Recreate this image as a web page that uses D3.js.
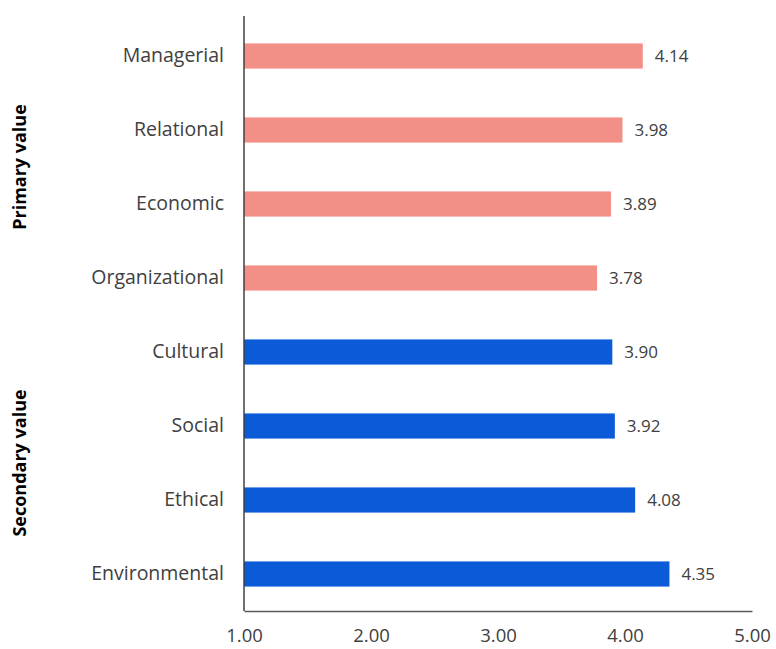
<!DOCTYPE html>
<html>
<head>
<meta charset="utf-8">
<script src="https://cdn.jsdelivr.net/npm/d3@7"></script>
<style>
  body { margin: 0; background: #fff; }
  text { font-family: "Open Sans", sans-serif; }
</style>
</head>
<body>
<div id="chart"></div>
<script>
const categories = ["Managerial", "Relational", "Economic", "Organizational", "Cultural", "Social", "Ethical", "Environmental"];
const values = [4.14, 3.98, 3.89, 3.78, 3.90, 3.92, 4.08, 4.35];
const groups = ["Primary", "Primary", "Primary", "Primary", "Secondary", "Secondary", "Secondary", "Secondary"];
const groupLabels = ["Primary value", "Secondary value"];
const xTicks = [1, 2, 3, 4, 5];

const data = categories.map((c, i) => ({ name: c, value: values[i], group: groups[i] }));

const width = 776, height = 649;
const margin = { top: 19, right: 24, bottom: 38, left: 244 };

const svg = d3.select("#chart").append("svg")
  .attr("width", width)
  .attr("height", height);

const x = d3.scaleLinear()
  .domain([1, 5])
  .range([margin.left, width - margin.right]);

const y = d3.scaleBand()
  .domain(categories)
  .range([margin.top, height - margin.bottom])
  .paddingInner(0.66)
  .paddingOuter(0.33);

const color = d3.scaleOrdinal()
  .domain(["Primary", "Secondary"])
  .range(["#f28f87", "#0b5bd8"]);

svg.selectAll("rect.bar")
  .data(data)
  .enter().append("rect")
  .attr("class", "bar")
  .attr("x", x(1))
  .attr("y", d => y(d.name))
  .attr("width", d => x(d.value) - x(1))
  .attr("height", y.bandwidth())
  .attr("fill", d => color(d.group));

// value labels
svg.selectAll("text.val")
  .data(data)
  .enter().append("text")
  .attr("class", "val")
  .attr("x", d => x(d.value) + 12)
  .attr("y", d => y(d.name) + y.bandwidth() / 2)
  .attr("dy", "0.35em")
  .style("font-size", "17px")
  .style("fill", "#404040")
  .text(d => d.value.toFixed(2));

// x axis
const xAxis = svg.append("g")
  .attr("transform", `translate(0, ${height - margin.bottom})`)
  .call(d3.axisBottom(x).tickValues(xTicks).tickFormat(d3.format(".2f")).tickSize(0).tickPadding(18));
xAxis.select(".domain").attr("stroke", "#595959").attr("stroke-width", 1.5);
xAxis.selectAll("text")
  .style("font-size", "18.5px")
  .style("font-family", "'Open Sans', sans-serif")
  .style("fill", "#404040");

// y axis
const yAxis = svg.append("g")
  .attr("transform", `translate(${margin.left}, 0)`)
  .call(d3.axisLeft(y).tickSize(0).tickPadding(20));
yAxis.select(".domain")
  .attr("d", `M0,16V${height - margin.bottom}`)
  .attr("stroke", "#404040").attr("stroke-width", 1.5);
yAxis.selectAll("text")
  .style("font-size", "19.5px")
  .style("font-family", "'Open Sans', sans-serif")
  .style("fill", "#404040");

// group labels
const groupCenters = groupLabels.map((g, i) => {
  const names = data.filter(d => d.group === color.domain()[i]).map(d => d.name);
  return (y(names[0]) + y(names[names.length - 1]) + y.bandwidth()) / 2;
});

svg.selectAll("text.grp")
  .data(groupLabels)
  .enter().append("text")
  .attr("class", "grp")
  .attr("transform", (d, i) => `translate(26, ${groupCenters[i]}) rotate(-90)`)
  .attr("text-anchor", "middle")
  .style("font-size", "18px")
  .style("font-weight", "bold")
  .style("fill", "#000")
  .text(d => d);
</script>
</body>
</html>
